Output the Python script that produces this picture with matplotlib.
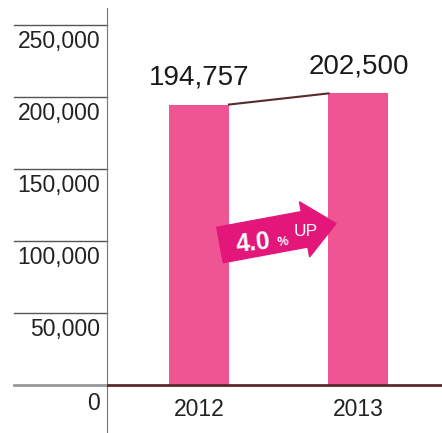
import numpy as np
import matplotlib.pyplot as plt
from matplotlib.patches import FancyArrow

plt.rcParams['font.family'] = ['Liberation Sans', 'DejaVu Sans']

years = ["2012", "2013"]
values = [194757, 202500]
value_labels = ["194,757", "202,500"]
yticks = [50000, 100000, 150000, 200000, 250000]
ytick_labels = ["50,000", "100,000", "150,000", "200,000", "250,000"]
growth = "4.0"

W, H = 442, 433
fig = plt.figure(figsize=(W / 100, H / 100), dpi=100)
ax = fig.add_axes([107 / W, 0, (W - 107) / W, 1])

bar_color = "#ee5592"
line_color = "#5a2a2a"
x = np.arange(len(years))
w = 0.376
ax.bar(x, values, width=w, color=bar_color, zorder=2)

# connector between bar tops
ax.plot([x[0] + w / 2, x[1] - w / 2], values, color=line_color, lw=1.5, zorder=3)

ax.set_xlim(-0.577, 1.524)
ax.set_ylim(-(433 - 385) / 72 * 50000, 385 / 72 * 50000)

# baseline
ax.axhline(0, color=line_color, lw=2, zorder=3)
tr = ax.get_yaxis_transform()
left = -93 / (W - 107)
ax.plot([left, 0], [0, 0], color="#999999", lw=2, transform=tr, clip_on=False)

# short gridlines left of the axis with labels under them
for t, lab in zip(yticks, ytick_labels):
    ax.plot([left, 0], [t, t], color="#555555", lw=1, transform=tr, clip_on=False)
    ax.annotate(lab, (0, t), xycoords=tr, xytext=(-5, -3.5), textcoords="offset points",
                ha="right", va="top", fontsize=16.5, color="#222222")
ax.annotate("0", (0, 0), xycoords=tr, xytext=(-5, -5), textcoords="offset points",
            ha="right", va="top", fontsize=16.5, color="#222222")

# year labels
for xi, y in zip(x, years):
    ax.annotate(y, (xi, 0), xytext=(0, -9), textcoords="offset points",
                ha="center", va="top", fontsize=16.5, color="#222222")

# value labels
for xi, v, lab in zip(x, values, value_labels):
    ax.annotate(lab, (xi, v), xytext=(0, 10), textcoords="offset points",
                ha="center", va="bottom", fontsize=20, color="#1a1a1a")

for s in ["top", "right", "bottom"]:
    ax.spines[s].set_visible(False)
ax.spines["left"].set_color("#777777")
ax.spines["left"].set_bounds(0 - 33000, 385 / 72 * 50000 - 8 / 72 * 50000)
ax.set_xticks([])
ax.set_yticks([])
ax.patch.set_alpha(0)


def px(xp, yp):
    return xp / W, 1 - yp / H


# growth arrow (decoration), in figure pixels
ang = np.deg2rad(10.5)
arrow = FancyArrow(220, H - 245, 118 * np.cos(ang), 118 * np.sin(ang), width=36,
                   head_width=56, head_length=32, length_includes_head=True,
                   color="#e3177a", transform=None, zorder=5)
fig.patches.append(arrow)

fig.text(*px(253, 243), growth, color="white", fontsize=18, fontweight="bold",
         ha="center", va="center", rotation=6, zorder=6)
fig.text(*px(283, 242), "%", color="white", fontsize=9, fontweight="bold",
         ha="center", va="center", rotation=6, zorder=6)
fig.text(*px(306, 232), "UP", color="white", fontsize=12.5,
         ha="center", va="center", rotation=0, zorder=6)

fig.savefig("out.png", dpi=100)
